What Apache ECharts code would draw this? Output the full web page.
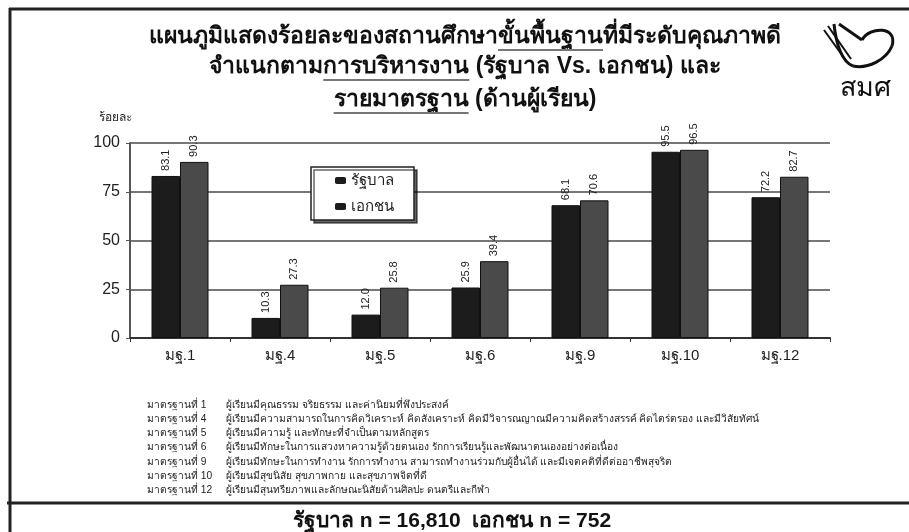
<!DOCTYPE html>
<html>
<head>
<meta charset="utf-8">
<script src="https://cdn.jsdelivr.net/npm/echarts@6/dist/echarts.min.js"></script>
<style>
  html, body { margin: 0; padding: 0; background: #fff; }
  #chart { width: 909px; height: 532px; }
</style>
</head>
<body>
<div id="chart"></div>
<script>
const categories = ['มฐ.1', 'มฐ.4', 'มฐ.5', 'มฐ.6', 'มฐ.9', 'มฐ.10', 'มฐ.12']
const govValues = [83.1, 10.3, 12.0, 25.9, 68.1, 95.5, 72.2]
const privValues = [90.3, 27.3, 25.8, 39.4, 70.6, 96.5, 82.7]
const seriesNames = ['รัฐบาล', 'เอกชน']

const titleLines = [
  ['แผนภูมิแสดงร้อยละของสถานศึกษา', 'ขั้นพื้นฐาน', 'ที่มีระดับคุณภาพดี'],
  ['จำแนกตาม', 'การบริหารงาน', ' (รัฐบาล Vs. เอกชน) และ'],
  ['', 'รายมาตรฐาน', ' (ด้านผู้เรียน)']
]
const notes = [
  ['มาตรฐานที่ 1', 'ผู้เรียนมีคุณธรรม จริยธรรม และค่านิยมที่พึงประสงค์'],
  ['มาตรฐานที่ 4', 'ผู้เรียนมีความสามารถในการคิดวิเคราะห์ คิดสังเคราะห์ คิดมีวิจารณญาณมีความคิดสร้างสรรค์ คิดไตร่ตรอง และมีวิสัยทัศน์'],
  ['มาตรฐานที่ 5', 'ผู้เรียนมีความรู้ และทักษะที่จำเป็นตามหลักสูตร'],
  ['มาตรฐานที่ 6', 'ผู้เรียนมีทักษะในการแสวงหาความรู้ด้วยตนเอง รักการเรียนรู้และพัฒนาตนเองอย่างต่อเนื่อง'],
  ['มาตรฐานที่ 9', 'ผู้เรียนมีทักษะในการทำงาน รักการทำงาน สามารถทำงานร่วมกับผู้อื่นได้ และมีเจตคติที่ดีต่ออาชีพสุจริต'],
  ['มาตรฐานที่ 10', 'ผู้เรียนมีสุขนิสัย สุขภาพกาย และสุขภาพจิตที่ดี'],
  ['มาตรฐานที่ 12', 'ผู้เรียนมีสุนทรียภาพและลักษณะนิสัยด้านศิลปะ ดนตรีและกีฬา']
]
const footer = 'รัฐบาล n = 16,810  เอกชน n = 752'

const chart = echarts.init(document.getElementById('chart'))

// measure text so underlines sit under the right words
const ctx = document.createElement('canvas').getContext('2d')
const titleFont = 'bold 23px sans-serif'
ctx.font = titleFont

const graphics = []
// frame
graphics.push({ type: 'line', shape: { x1: 9, y1: 9, x2: 909, y2: 9 }, style: { stroke: '#222', lineWidth: 3 } })
graphics.push({ type: 'line', shape: { x1: 10, y1: 8, x2: 10, y2: 532 }, style: { stroke: '#222', lineWidth: 3 } })
graphics.push({ type: 'line', shape: { x1: 7, y1: 503, x2: 909, y2: 503 }, style: { stroke: '#222', lineWidth: 3 } })

const titleY = [37, 67, 100]
titleLines.forEach((parts, i) => {
  const full = parts.join('')
  const w = ctx.measureText(full).width
  const x0 = 465 - w / 2
  graphics.push({
    type: 'text', x: 465, y: titleY[i],
    style: { text: full, font: titleFont, fill: '#111', align: 'center', verticalAlign: 'middle' }
  })
  const u0 = x0 + ctx.measureText(parts[0]).width
  const u1 = u0 + ctx.measureText(parts[1]).width
  graphics.push({ type: 'line', shape: { x1: u0, y1: titleY[i] + 13, x2: u1, y2: titleY[i] + 13 }, style: { stroke: '#777', lineWidth: 2 } })
})

// logo
const logoStroke = { fill: null, stroke: '#111', lineWidth: 3 }
graphics.push({ type: 'bezierCurve', shape: { x1: 862, y1: 40, cpx1: 870, cpy1: 26, cpx2: 898, cpy2: 26, x2: 892, y2: 46 }, style: logoStroke })
graphics.push({ type: 'bezierCurve', shape: { x1: 892, y1: 46, cpx1: 886, cpy1: 60, cpx2: 868, cpy2: 69, x2: 853, y2: 66 }, style: logoStroke })
graphics.push({ type: 'bezierCurve', shape: { x1: 853, y1: 66, cpx1: 842, cpy1: 62, cpx2: 836, cpy2: 44, x2: 834, y2: 24 }, style: logoStroke })
graphics.push({ type: 'line', shape: { x1: 824, y1: 30, x2: 847, y2: 62 }, style: { stroke: '#111', lineWidth: 2 } })
graphics.push({ type: 'line', shape: { x1: 828, y1: 26, x2: 851, y2: 59 }, style: { stroke: '#111', lineWidth: 2 } })
graphics.push({ type: 'line', shape: { x1: 839, y1: 24, x2: 862, y2: 40 }, style: { stroke: '#111', lineWidth: 3 } })
graphics.push({ type: 'text', x: 865, y: 89, style: { text: 'สมศ', font: '27px sans-serif', fill: '#111', align: 'center', verticalAlign: 'middle' } })

graphics.push({ type: 'text', x: 99, y: 118, style: { text: 'ร้อยละ', font: '12px sans-serif', fill: '#222', verticalAlign: 'middle' } })

notes.forEach((n, i) => {
  const y = 405 + i * 14.2
  graphics.push({ type: 'text', x: 147, y, style: { text: n[0], font: '10.2px sans-serif', fill: '#222', verticalAlign: 'middle' } })
  graphics.push({ type: 'text', x: 226, y, style: { text: n[1], font: '10.2px sans-serif', fill: '#222', verticalAlign: 'middle' } })
})

graphics.push({ type: 'text', x: 452, y: 521, style: { text: footer, font: 'bold 21px sans-serif', fill: '#111', align: 'center', verticalAlign: 'middle' } })

function makeSeries(name, data, color) {
  return {
    name,
    data,
    type: 'bar',
    barGap: '0%',
    barCategoryGap: '43%',
    itemStyle: { color, borderColor: '#111', borderWidth: 1 },
    label: {
      show: true,
      position: 'top',
      rotate: 90,
      align: 'left',
      verticalAlign: 'middle',
      distance: 5,
      fontSize: 11,
      color: '#222',
      formatter: p => p.value.toFixed(1)
    }
  }
}

const option = {
  animation: false,
  textStyle: { fontFamily: 'sans-serif' },
  grid: { left: 130, right: 79, top: 143, bottom: 194 },
  legend: {
    left: 311,
    top: 167,
    orient: 'vertical',
    itemWidth: 11,
    itemHeight: 7,
    itemGap: 11,
    padding: [6, 20, 6, 24],
    backgroundColor: '#fff',
    borderColor: '#222',
    borderWidth: 1.5,
    shadowColor: 'rgba(0,0,0,0.6)',
    shadowOffsetX: 3,
    shadowOffsetY: 3,
    textStyle: { fontSize: 15, color: '#222' },
    data: seriesNames.map(n => ({ name: n, icon: 'roundRect', itemStyle: { color: '#1c1c1c', borderWidth: 0 } }))
  },
  xAxis: {
    type: 'category',
    data: categories,
    axisLine: { lineStyle: { color: '#333', width: 2 } },
    axisTick: { show: true, length: 4, lineStyle: { color: '#333' } },
    axisLabel: { fontSize: 15, color: '#222', margin: 10 }
  },
  yAxis: {
    type: 'value',
    min: 0,
    max: 100,
    interval: 25,
    axisLine: { show: true, lineStyle: { color: '#555', width: 2 } },
    axisTick: { show: true, length: 4, lineStyle: { color: '#555' } },
    axisLabel: { fontSize: 16, color: '#222', margin: 10 },
    splitLine: { lineStyle: { color: '#777', width: 2 } }
  },
  series: [
    makeSeries(seriesNames[0], govValues, '#1c1c1c'),
    makeSeries(seriesNames[1], privValues, '#4a4a4a')
  ],
  graphic: graphics
}

chart.setOption(option)
</script>
</body>
</html>
